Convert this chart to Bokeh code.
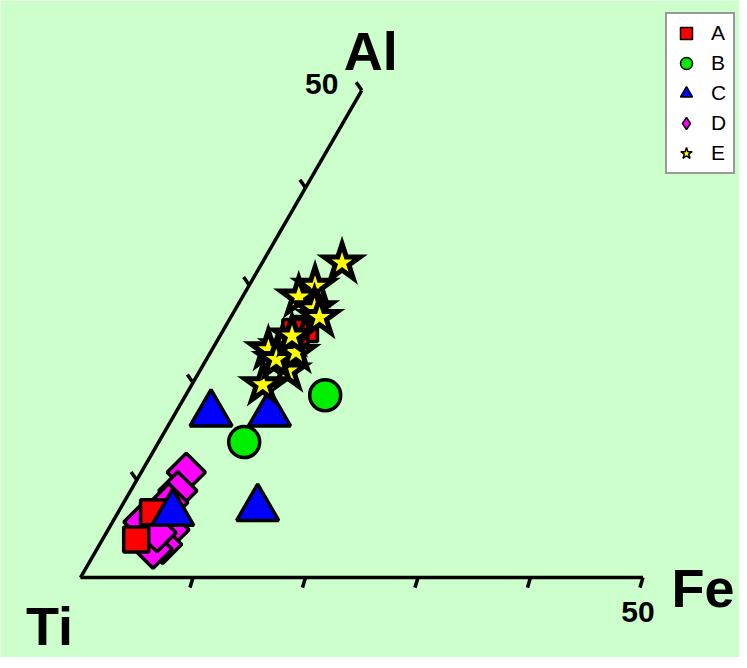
import math
from bokeh.plotting import figure
from bokeh.models import Range1d, Legend, LegendItem
from bokeh.core.properties import value
from bokeh.embed import file_html
from bokeh.resources import INLINE

# ---- data (ternary percentages: Fe, Al; Ti is the remainder) ----
A_fe = [7.2, 6.5, 3.1, 3.0]
A_al = [25.5, 25.2, 6.7, 3.9]

B_fe = [12.4, 7.6]
B_al = [18.7, 13.9]

C_fe = [3.2, 8.4, 12.2, 4.9]
C_al = [16.8, 16.8, 7.1, 6.6]

D_fe = [4.0, 4.2, 4.0, 5.5, 5.6, 5.0, 2.7, 4.5]
D_al = [10.8, 8.9, 7.7, 4.9, 3.4, 2.9, 5.7, 4.6]

E_fe = [7.1, 5.9, 5.0, 7.0, 6.1, 5.0, 7.8, 6.3, 6.2, 7.6, 7.9, 6.4]
E_al = [32.3, 29.9, 28.8, 27.6, 23.7, 23.4, 21.2, 19.8, 22.4, 23.1, 26.7, 24.8]

series_labels = ["A", "B", "C", "D", "E"]
tick_values = [10, 20, 30, 40, 50]
axis_max = 50
corner_labels = ["Ti", "Fe", "Al"]

S3 = math.sqrt(3) / 2


def tern(fe, al):
    xs = [f + a / 2 for f, a in zip(fe, al)]
    ys = [a * S3 for a in al]
    return xs, ys


W, H = 739, 657
K = 11.25  # px per percent
ox, oy = 80, 577  # origin (Ti corner) in figure pixels

p = figure(width=W, height=H, output_backend="svg", toolbar_location=None,
           x_range=Range1d(-ox / K, (W - ox) / K),
           y_range=Range1d(-(H - oy) / K, oy / K),
           x_axis_type=None, y_axis_type=None, min_border=0,
           background_fill_color="#ccffcc", border_fill_color="#ccffcc",
           outline_line_color=None)
p.grid.visible = False

# axes
fx, fy = tern([0, axis_max], [0, 0])
ax_, ay_ = tern([0, 0], [0, axis_max])
p.line(fx, fy, line_color="black", line_width=3.5)
p.line(ax_, ay_, line_color="black", line_width=3.5)

# ticks
tfx, tfy = tern(tick_values, [0] * len(tick_values))
p.segment(x0=tfx, y0=tfy, x1=[x - 0.27 for x in tfx], y1=[y - 0.9 for y in tfy],
          line_color="black", line_width=3.5)
tax, tay = tern([0] * len(tick_values), tick_values)
p.segment(x0=tax, y0=tay, x1=[x - 0.5 for x in tax], y1=[y + 0.72 for y in tay],
          line_color="black", line_width=3.5)

# axis-end labels
txt = dict(text_align="center", text_baseline="middle",
           text_font=value("Liberation Sans"), text_font_style="bold",
           text_color="black")
p.text(x=[fx[1]], y=[fy[1]], text=["50"], x_offset=-5, y_offset=34,
       text_font_size="30px", **txt)
p.text(x=[ax_[1]], y=[ay_[1]], text=["50"], x_offset=-40, y_offset=-6,
       text_font_size="30px", **txt)

# corner labels
p.text(x=[0], y=[0], text=[corner_labels[0]], x_offset=-31, y_offset=48,
       text_font_size="54px", **txt)
p.text(x=[fx[1]], y=[fy[1]], text=[corner_labels[1]], x_offset=60, y_offset=10,
       text_font_size="54px", **txt)
p.text(x=[ax_[1]], y=[ay_[1]], text=[corner_labels[2]], x_offset=9, y_offset=-39,
       text_font_size="54px", **txt)

# data points
dx, dy = tern(D_fe, D_al)
p.scatter(dx, dy, marker="square", angle=math.pi / 4, size=27,
          fill_color="#ff00ff", line_color="black", line_width=3.5)
axs, ays = tern(A_fe, A_al)
p.scatter(axs, ays, marker="square", size=25,
          fill_color="#ff0000", line_color="black", line_width=3.5)
bx, by = tern(B_fe, B_al)
p.scatter(bx, by, marker="circle", size=31,
          fill_color="#00ee00", line_color="black", line_width=3.5)
cx, cy = tern(C_fe, C_al)
p.scatter(cx, cy, marker="triangle", size=42,
          fill_color="#0000ff", line_color="black", line_width=3.5)
ex, ey = tern(E_fe, E_al)
p.scatter(ex, ey, marker="star", size=38,
          fill_color="#ffff00", line_color="black", line_width=5, line_join="miter")

# legend (renderers with a NaN point, used only for legend glyphs)
nan = float("nan")
leg_specs = [
    dict(marker="square", fill_color="#ff0000"),
    dict(marker="circle", fill_color="#00ee00"),
    dict(marker="triangle", fill_color="#0000ff"),
    dict(marker="diamond", fill_color="#ff00ff"),
    dict(marker="star", fill_color="#ffff00"),
]
items = []
for lab, spec in zip(series_labels, leg_specs):
    r = p.scatter(x=[nan], y=[nan], line_color="black", line_width=1.5, size=12, **spec)
    items.append(LegendItem(label=lab, renderers=[r]))

legend = Legend(items=items, location=(665, 483), glyph_width=30, glyph_height=30,
                spacing=0, padding=4, label_standoff=10, label_width=18,
                label_text_font="Liberation Sans", label_text_font_size="21px",
                label_text_color="black",
                background_fill_color="white", background_fill_alpha=1.0,
                border_line_color="#333333", border_line_width=2)
p.add_layout(legend, "center")

open("out.html", "w").write(file_html(p, INLINE))
